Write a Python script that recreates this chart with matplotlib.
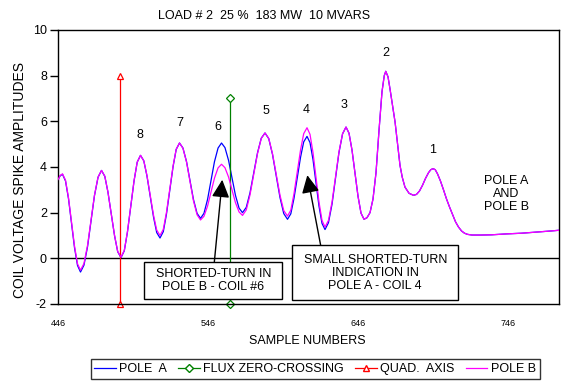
import matplotlib
matplotlib.use("Agg")
import matplotlib.pyplot as plt
from matplotlib.lines import Line2D
from matplotlib.patches import Rectangle

plt.rcParams['font.family'] = ['Liberation Sans', 'DejaVu Sans']

# sample numbers (x)
samples = [446, 447.5, 449,
           451, 453, 455, 457, 459, 461,
           463.3, 465.7, 468, 470.3, 472.7, 475,
           477.2, 479.3, 481.5, 483.7, 485.8, 488,
           490.2, 492.3, 494.5, 496.7, 498.8, 501,
           503.2, 505.3, 507.5, 509.7, 511.8, 514,
           516.2, 518.3, 520.5, 522.7, 524.8, 527,
           529.3, 531.7, 534, 536.3, 538.7, 541,
           543.3, 545.7, 548, 550.3, 552.7, 555,
           557.3, 559.7, 562, 564.3, 566.7, 569,
           571.5, 574, 576.5, 579, 581.5, 584,
           586.5, 589, 591.5, 594, 596.5, 599,
           601.2, 603.3, 605.5, 607.7, 609.8, 612,
           614, 616, 618, 620, 622, 624,
           626.3, 628.7, 631, 633.3, 635.7, 638,
           640, 642, 644, 646, 648, 650,
           652, 654, 656, 658, 660, 662, 663.5, 664.5,
           666, 667.3, 669, 670.7, 672.5, 674, 675.5, 677.3, 680, 683,
           685, 687, 689, 691, 693, 694.5, 696,
           697.5, 699, 701, 703, 705, 707, 709, 711, 713, 715, 717, 719, 722,
           728, 735, 745, 755, 765, 775, 780]

# pole A / pole B amplitudes where the two traces differ (446..638)
pole_a_head = [3.45, 3.62, 3.68,
               3.39, 2.61, 1.54, 0.47, -0.31, -0.60,
               -0.30, 0.51, 1.63, 2.74, 3.55, 3.85,
               3.59, 2.90, 1.94, 0.99, 0.29, 0.03,
               0.33, 1.15, 2.27, 3.39, 4.21, 4.51,
               4.27, 3.61, 2.70, 1.80, 1.13, 0.89,
               1.17, 1.93, 2.97, 4.01, 4.77, 5.05,
               4.83, 4.23, 3.40, 2.58, 1.97, 1.75,
               1.97, 2.58, 3.40, 4.23, 4.83, 5.05,
               4.85, 4.29, 3.53, 2.76, 2.20, 2.00,
               2.23, 2.87, 3.75, 4.62, 5.26, 5.49,
               5.24, 4.55, 3.60, 2.66, 1.96, 1.71,
               1.95, 2.62, 3.53, 4.43, 5.10, 5.34,
               5.07, 4.32, 3.30, 2.28, 1.53, 1.26,
               1.56, 2.38, 3.51, 4.63, 5.45, 5.75]
pole_b_head = [3.45, 3.63, 3.70,
               3.42, 2.65, 1.59, 0.54, -0.24, -0.52,
               -0.23, 0.57, 1.67, 2.76, 3.56, 3.85,
               3.60, 2.90, 1.95, 1.00, 0.30, 0.05,
               0.35, 1.17, 2.28, 3.40, 4.21, 4.51,
               4.27, 3.63, 2.76, 1.88, 1.24, 1.00,
               1.27, 2.01, 3.03, 4.04, 4.78, 5.05,
               4.82, 4.21, 3.37, 2.52, 1.91, 1.68,
               1.84, 2.29, 2.90, 3.51, 3.96, 4.12,
               3.97, 3.56, 3.00, 2.44, 2.03, 1.88,
               2.12, 2.78, 3.69, 4.59, 5.25, 5.49,
               5.25, 4.58, 3.67, 2.76, 2.09, 1.85,
               2.11, 2.82, 3.79, 4.75, 5.46, 5.72,
               5.43, 4.63, 3.55, 2.46, 1.66, 1.37,
               1.66, 2.47, 3.56, 4.66, 5.46, 5.75]
# both poles identical after sample 638
common_tail = [5.48, 4.74, 3.73, 2.72, 1.98, 1.71,
               1.78, 2.00, 2.60, 3.75, 5.60, 7.30, 8.00, 8.19,
               7.95, 7.43, 6.70, 5.97, 4.95, 4.07, 3.55, 3.12, 2.85, 2.76,
               2.80, 2.95, 3.20, 3.50, 3.75, 3.88, 3.93,
               3.88, 3.70, 3.38, 3.00, 2.60, 2.25, 1.92, 1.60, 1.37, 1.20,
               1.10, 1.05, 1.02,
               1.02, 1.03, 1.07, 1.10, 1.15, 1.20, 1.23]
pole_a = pole_a_head + common_tail
pole_b = pole_b_head + common_tail

flux_x = [560.5, 560.5]
flux_y = [7, -2]
quad_x = [487.5, 487.5]
quad_y = [8, -2]

coil_labels = ['8', '7', '6', '5', '4', '3', '2', '1']
coil_x = [500.7, 527.3, 552.7, 584.7, 611.3, 636.7, 664.7, 696]
coil_y = [5.42, 5.93, 5.75, 6.44, 6.48, 6.70, 9.0, 4.73]

x_ticks = [446, 546, 646, 746]
y_ticks = [-2, 0, 2, 4, 6, 8, 10]

fig = plt.figure(figsize=(5.72, 3.88), dpi=100)
ax = fig.add_axes([0.1014, 0.2165, 0.8759, 0.7062])

ax.axhline(0, color='black', lw=1, zorder=1)
ax.plot(samples, pole_a, color='#0000FF', lw=0.9, zorder=2)
ax.plot(flux_x, flux_y, color='#008000', lw=0.9, marker='D', ms=4,
        mfc='white', mec='#008000', mew=0.9, zorder=2, clip_on=False)
ax.plot(quad_x, quad_y, color='#FF0000', lw=0.9, marker='^', ms=5,
        mfc='white', mec='#FF0000', mew=0.9, zorder=2, clip_on=False)
ax.plot(samples, pole_b, color='#FF00FF', lw=0.9, zorder=3)

for lab, x, y in zip(coil_labels, coil_x, coil_y):
    ax.text(x, y, lab, ha='center', va='center', fontsize=9)

ax.text(744.7, 2.8, 'POLE A\nAND\nPOLE B', ha='center', va='center',
        fontsize=9, linespacing=1.1)

# annotation boxes
ax.add_patch(Rectangle((503.5, -1.77), 92.0, 1.61, fc='white', ec='black',
                       lw=1, zorder=5))
ax.text(549.5, -0.96, 'SHORTED-TURN IN\nPOLE B - COIL #6', ha='center',
        va='center', fontsize=9, linespacing=1.15, zorder=6)
ax.add_patch(Rectangle((602.2, -1.84), 110.7, 2.41, fc='white', ec='black',
                       lw=1, zorder=5))
ax.text(657.5, -0.64, 'SMALL SHORTED-TURN\nINDICATION IN\nPOLE A - COIL 4',
        ha='center', va='center', fontsize=9, linespacing=1.15, zorder=6)

arrow = dict(arrowstyle='-|>,head_length=0.9,head_width=0.45',
             mutation_scale=12, color='black', lw=1, shrinkA=0, shrinkB=0)
ax.annotate('', xy=(555.5, 3.44), xytext=(550.2, -0.17), arrowprops=arrow,
            zorder=4)
ax.annotate('', xy=(612.2, 3.64), xytext=(621.1, 0.57), arrowprops=arrow,
            zorder=4)

ax.set_xlim(446, 780)
ax.set_ylim(-2, 10)
ax.set_xticks(x_ticks)
ax.set_xticklabels([str(t) for t in x_ticks], fontsize=6.5)
ax.set_yticks(y_ticks)
ax.set_yticklabels([str(t) for t in y_ticks], fontsize=9)
ax.tick_params(axis='x', length=0, pad=11)
ax.tick_params(axis='y', direction='out', length=6, width=1, pad=2)
for s in ax.spines.values():
    s.set_linewidth(1)

fig.text(0.462, 0.959, 'LOAD # 2  25 %  183 MW  10 MVARS', ha='center',
         va='center', fontsize=9)
fig.text(0.538, 1 - 341 / 388, 'SAMPLE NUMBERS', ha='center', va='center',
         fontsize=9)
fig.text(0.035, 1 - 180 / 388, 'COIL VOLTAGE SPIKE AMPLITUDES', ha='center',
         va='center', rotation=90, fontsize=10)

handles = [
    Line2D([], [], color='#0000FF', lw=0.9),
    Line2D([], [], color='#008000', lw=0.9, marker='D', ms=4, mfc='white',
           mec='#008000'),
    Line2D([], [], color='#FF0000', lw=0.9, marker='^', ms=5, mfc='white',
           mec='#FF0000'),
    Line2D([], [], color='#FF00FF', lw=0.9),
]
labels = ['POLE  A', 'FLUX ZERO-CROSSING', 'QUAD.  AXIS', 'POLE B']
leg = fig.legend(handles, labels, loc='center', ncol=4,
                 bbox_to_anchor=(0.551, 1 - 369 / 388), fontsize=9,
                 frameon=True, fancybox=False, handlelength=1.7,
                 handletextpad=0.3, columnspacing=0.9, borderpad=0.3)
leg.get_frame().set_edgecolor('black')
leg.get_frame().set_linewidth(1)

fig.savefig('out.png', dpi=100)
